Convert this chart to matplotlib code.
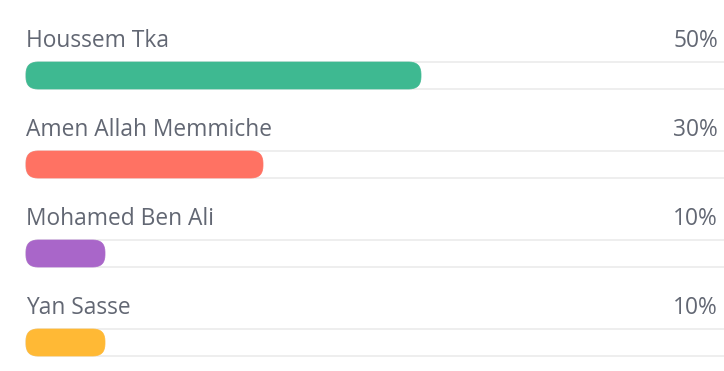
import matplotlib
matplotlib.use("Agg")
import matplotlib.pyplot as plt
from matplotlib.patches import FancyBboxPatch

names = ["Houssem Tka", "Amen Allah Memmiche", "Mohamed Ben Ali", "Yan Sasse"]
values = [50, 30, 10, 10]
colors = ["#3eb991", "#ff7263", "#a966c9", "#ffb935"]

W, H = 724, 371
fig = plt.figure(figsize=(W / 100, H / 100), dpi=100)
ax = fig.add_axes([0, 0, 1, 1])
ax.set_xlim(0, W)
ax.set_ylim(H, 0)
ax.axis("off")

left = 26
full = 790
bar_h = 27
first_top = 62
step = 89
text_col = "#626773"

for i, (n, v, c) in enumerate(zip(names, values, colors)):
    top = first_top + step * i
    track = FancyBboxPatch((left, top), full, bar_h,
                           boxstyle="round,pad=0,rounding_size=12",
                           facecolor="white", edgecolor="#e4e4e4", linewidth=0.9)
    ax.add_patch(track)
    bar = FancyBboxPatch((left, top), full * v / 100, bar_h,
                         boxstyle="round,pad=0,rounding_size=12",
                         facecolor=c, edgecolor=c, linewidth=0.5)
    ax.add_patch(bar)
    ax.text(left, top - 15, n, ha="left", va="baseline", fontsize=16.4,
            family="Open Sans", color=text_col)
    ax.text(718, top - 15, f"{v}%", ha="right", va="baseline", fontsize=16.4,
            family="Open Sans", color=text_col)

fig.savefig("out.png", dpi=100)
